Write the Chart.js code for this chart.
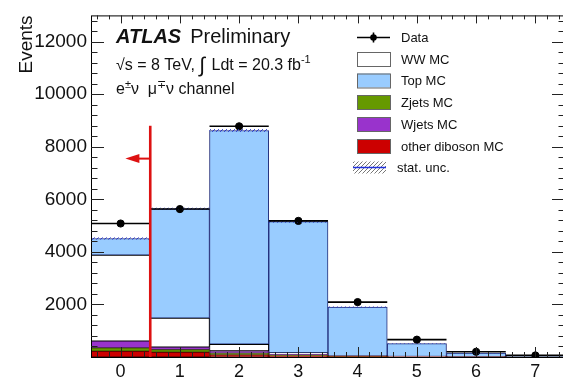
<!DOCTYPE html>
<html>
<head>
<meta charset="utf-8">
<script src="https://cdn.jsdelivr.net/npm/chart.js@4.4.1/dist/chart.umd.min.js"></script>
<style>
  html, body { margin: 0; padding: 0; background: #fff; overflow: hidden; }
  canvas { display: block; }
</style>
</head>
<body>
<canvas id="njets" width="570" height="381"></canvas>
<script>
// jet multiplicity bins
const jetBins = ['0', '1', '2', '3', '4', '5', '6', '7'];

// labelled y ticks
const yTickValues = [2000, 4000, 6000, 8000, 10000, 12000];

// observed events
const dataEvents = [5080, 5630, 8780, 5180, 2090, 660, 200, 60];

// MC predictions, stacked bottom to top
const otherDibosonMC = [220, 180, 80, 40, 15, 5, 2, 1];
const zjetsMC = [130, 100, 70, 30, 10, 3, 1, 0];
const wjetsMC = [250, 90, 80, 30, 10, 3, 1, 0];
const wwMC = [3280, 1110, 255, 60, 20, 8, 3, 1];
const topMC = [630, 4160, 8135, 4990, 1845, 490, 140, 40];

// stat. uncertainty on the MC sum
const mcStatUnc = [40, 40, 50, 35, 20, 10, 6, 4];

// jet veto cut
const cutValue = 0.5;
const cutTop = 8800;
const arrowY = 7550;
const arrowTip = 0.08;

const mcTotal = jetBins.map((b, i) =>
    otherDibosonMC[i] + zjetsMC[i] + wjetsMC[i] + wwMC[i] + topMC[i]);

const FONT = '"Liberation Sans", Arial, Helvetica, sans-serif';

function hatchPattern(ctx, color, step) {
    const c = document.createElement('canvas');
    c.width = step;
    c.height = step;
    const g = c.getContext('2d');
    g.strokeStyle = color;
    g.lineWidth = 1;
    g.beginPath();
    g.moveTo(0, step); g.lineTo(step, 0);
    g.moveTo(-1, 1); g.lineTo(1, -1);
    g.moveTo(step - 1, step + 1); g.lineTo(step + 1, step - 1);
    g.stroke();
    return ctx.createPattern(c, 'repeat');
}

// draws text pieces one after another (for superscripts etc.)
function drawPieces(ctx, x, y, pieces) {
    pieces.forEach(p => {
        ctx.font = (p.style || '') + ' ' + p.size + 'px ' + FONT;
        ctx.fillText(p.t, x, y + (p.dy || 0));
        x += ctx.measureText(p.t).width + (p.gap || 0);
    });
}

// stat. unc. band, data error bars and the cut arrow
const overlays = {
    id: 'overlays',
    afterDatasetsDraw(chart) {
        const { ctx, scales: { x, y } } = chart;
        ctx.save();

        ctx.fillStyle = hatchPattern(ctx, '#2233cc', 4);
        jetBins.forEach((b, i) => {
            const x0 = x.getPixelForValue(i - 0.5);
            const x1 = x.getPixelForValue(i + 0.5);
            const y0 = y.getPixelForValue(mcTotal[i] + mcStatUnc[i]);
            const y1 = y.getPixelForValue(mcTotal[i] - mcStatUnc[i]);
            ctx.fillRect(x0, y0, x1 - x0, y1 - y0);
        });

        ctx.strokeStyle = '#000';
        ctx.lineWidth = 1.6;
        ctx.beginPath();
        jetBins.forEach((b, i) => {
            const yc = y.getPixelForValue(dataEvents[i]);
            const err = Math.sqrt(dataEvents[i]);
            ctx.moveTo(x.getPixelForValue(i - 0.5), yc);
            ctx.lineTo(x.getPixelForValue(i + 0.5), yc);
            ctx.moveTo(x.getPixelForValue(i), y.getPixelForValue(dataEvents[i] + err));
            ctx.lineTo(x.getPixelForValue(i), y.getPixelForValue(Math.max(0, dataEvents[i] - err)));
        });
        ctx.stroke();

        // cut line with arrow
        const xc = x.getPixelForValue(cutValue);
        ctx.strokeStyle = '#dd1111';
        ctx.fillStyle = '#dd1111';
        ctx.lineWidth = 2.6;
        ctx.beginPath();
        ctx.moveTo(xc, y.getPixelForValue(0));
        ctx.lineTo(xc, y.getPixelForValue(cutTop));
        ctx.stroke();
        const ya = y.getPixelForValue(arrowY);
        const xt = x.getPixelForValue(arrowTip);
        ctx.lineWidth = 2;
        ctx.beginPath();
        ctx.moveTo(xc, ya);
        ctx.lineTo(xt + 10, ya);
        ctx.stroke();
        ctx.beginPath();
        ctx.moveTo(xt, ya);
        ctx.lineTo(xt + 14, ya - 4.5);
        ctx.lineTo(xt + 14, ya + 4.5);
        ctx.closePath();
        ctx.fill();

        ctx.restore();
    }
};

// frame, ticks, labels and legend
const decorations = {
    id: 'decorations',
    afterDraw(chart) {
        const { ctx, chartArea: a, scales: { x, y } } = chart;
        ctx.save();
        ctx.strokeStyle = '#000';
        ctx.lineWidth = 1;
        ctx.strokeRect(a.left + 0.5, a.top + 0.5, a.right - a.left, a.bottom - a.top);

        ctx.beginPath();
        ctx.strokeStyle = '#222';
        for (let v = -0.4; v < 7.5; v += 0.2) {
            const major = Math.abs(v - Math.round(v)) < 0.01;
            const px = Math.round(x.getPixelForValue(v)) + 0.5;
            const len = major ? 10 : 5;
            ctx.moveTo(px, a.bottom); ctx.lineTo(px, a.bottom - len);
            ctx.moveTo(px, a.top); ctx.lineTo(px, a.top + (major ? 8 : 4));
        }
        for (let v = 400; v < 13000; v += 400) {
            const major = v % 2000 === 0;
            const py = Math.round(y.getPixelForValue(v)) + 0.5;
            const len = major ? 13 : 6.5;
            ctx.moveTo(a.left, py); ctx.lineTo(a.left + len, py);
            ctx.moveTo(a.right, py); ctx.lineTo(a.right - len, py);
        }
        ctx.stroke();

        // y axis title
        ctx.fillStyle = '#111';
        ctx.save();
        ctx.translate(32, a.top);
        ctx.rotate(-Math.PI / 2);
        ctx.textAlign = 'right';
        ctx.textBaseline = 'alphabetic';
        ctx.font = '19px ' + FONT;
        ctx.fillText('Events', 0, 0);
        ctx.restore();

        // plot labels
        ctx.textAlign = 'left';
        ctx.textBaseline = 'alphabetic';
        drawPieces(ctx, 116, 43, [
            { t: 'ATLAS', size: 20, style: 'italic bold', gap: 9 },
            { t: 'Preliminary', size: 20 }
        ]);
        drawPieces(ctx, 116, 70, [
            { t: '\u221As = 8 TeV, ', size: 16 },
            { t: '\u222B', size: 21, dy: 2, gap: 2 },
            { t: ' Ldt = 20.3 fb', size: 16 },
            { t: '-1', size: 11, dy: -7 }
        ]);
        drawPieces(ctx, 116, 94, [
            { t: 'e', size: 16 },
            { t: '\u00B1', size: 11, dy: -6 },
            { t: '\u03BD  \u03BC', size: 16 },
            { t: '\u2213', size: 11, dy: -6 },
            { t: '\u03BD channel', size: 16 }
        ]);

        // legend
        const lx = 357, lw = 33, tx = 401;
        const rows = [37.5, 59, 80.5, 102, 124, 146, 167.5];
        ctx.font = '13px ' + FONT;
        ctx.textBaseline = 'middle';
        ctx.fillStyle = '#111';
        ['Data', 'WW MC', 'Top MC', 'Zjets MC', 'Wjets MC', 'other diboson MC']
            .forEach((t, i) => ctx.fillText(t, tx, rows[i] + 1));
        ctx.fillText('stat. unc.', tx - 4, rows[6] + 1);

        ctx.strokeStyle = '#000';
        ctx.lineWidth = 1.6;
        ctx.beginPath();
        ctx.moveTo(lx, rows[0]); ctx.lineTo(lx + lw, rows[0]);
        ctx.moveTo(lx + lw / 2, rows[0] - 5); ctx.lineTo(lx + lw / 2, rows[0] + 5);
        ctx.stroke();
        ctx.fillStyle = '#000';
        ctx.beginPath();
        ctx.arc(lx + lw / 2, rows[0], 3.3, 0, Math.PI * 2);
        ctx.fill();

        const boxes = [
            ['#ffffff', 1], ['#99ccff', 2], ['#669900', 3], ['#9933cc', 4], ['#cc0000', 5]
        ];
        ctx.lineWidth = 1;
        boxes.forEach(([c, r]) => {
            ctx.fillStyle = c;
            ctx.fillRect(lx, rows[r] - 7, lw, 14);
            ctx.strokeStyle = '#666';
            ctx.strokeRect(lx + 0.5, rows[r] - 6.5, lw, 14);
        });

        ctx.fillStyle = hatchPattern(ctx, '#777', 4);
        ctx.fillRect(lx - 4, rows[6] - 6, lw, 12);
        ctx.strokeStyle = '#2233dd';
        ctx.lineWidth = 1.5;
        ctx.beginPath();
        ctx.moveTo(lx - 4, rows[6]); ctx.lineTo(lx - 4 + lw, rows[6]);
        ctx.stroke();

        ctx.restore();
    }
};

function mcBars(label, values, fill, border) {
    return {
        type: 'bar',
        label: label,
        data: values,
        backgroundColor: fill,
        borderColor: border,
        borderWidth: 1,
        borderSkipped: false,
        categoryPercentage: 1,
        barPercentage: 1,
        stack: 'mc',
        order: 1
    };
}

const ctx = document.getElementById('njets').getContext('2d');
const njetsChart = new Chart(ctx, {
    data: {
        labels: jetBins,
        datasets: [
            mcBars('other diboson MC', otherDibosonMC, '#cc0000', '#6a0000'),
            mcBars('Zjets MC', zjetsMC, '#669900', '#3a5500'),
            mcBars('Wjets MC', wjetsMC, '#9933cc', '#4f1a6a'),
            mcBars('WW MC', wwMC, '#ffffff', '#000000'),
            mcBars('Top MC', topMC, '#99ccff', '#1f2a78'),
            {
                type: 'line',
                label: 'Data',
                data: dataEvents,
                showLine: false,
                pointRadius: 3.6,
                pointBackgroundColor: '#000',
                pointBorderColor: '#000',
                stack: 'data',
                order: 0
            }
        ]
    },
    options: {
        responsive: false,
        animation: false,
        layout: { padding: { left: 0, right: 4, top: 13, bottom: 0 } },
        plugins: {
            legend: { display: false },
            tooltip: { enabled: false }
        },
        scales: {
            x: {
                type: 'category',
                offset: true,
                stacked: true,
                grid: { display: false, drawTicks: false },
                border: { display: false },
                ticks: {
                    color: '#111',
                    font: { family: FONT, size: 18 },
                    padding: 4,
                    maxRotation: 0
                },
                afterFit(s) { s.height = 24; }
            },
            y: {
                stacked: true,
                min: 0,
                max: 13000,
                grid: { display: false, drawTicks: false },
                border: { display: false },
                ticks: {
                    color: '#111',
                    font: { family: FONT, size: 19 },
                    padding: 4,
                    callback: v => String(v)
                },
                afterBuildTicks(s) {
                    s.ticks = yTickValues.map(v => ({ value: v }));
                },
                afterFit(s) { s.width = 91; }
            }
        }
    },
    plugins: [overlays, decorations]
});
</script>
</body>
</html>
